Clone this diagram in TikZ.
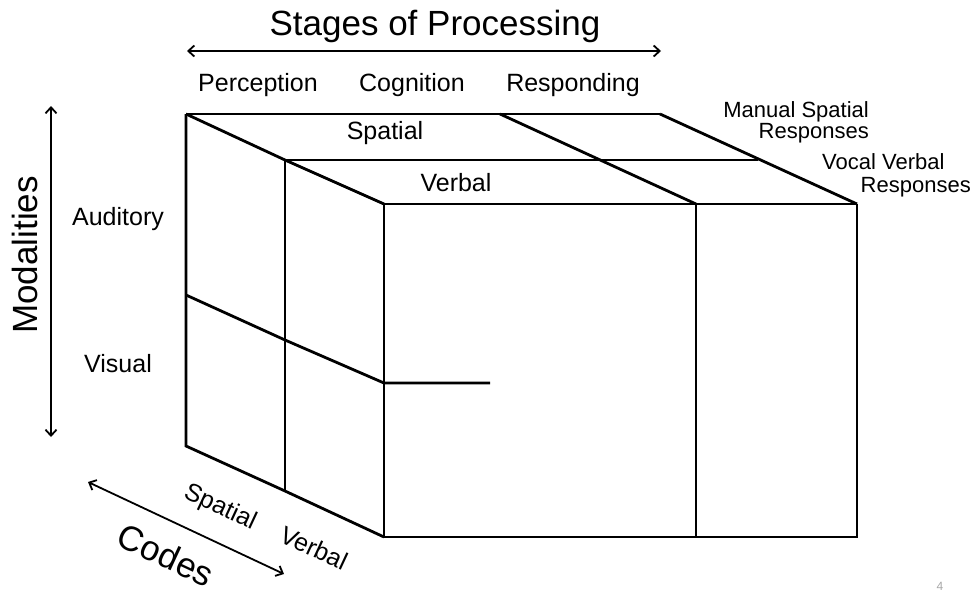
\documentclass[tikz,border=0pt]{standalone}
\usepackage{fontspec}
\setmainfont{Liberation Sans}
\usetikzlibrary{arrows.meta}

\tikzset{
  edge/.style={line width=2.8pt, line join=miter},
  axis/.style={{Straight Barb[length=6pt,width=11pt]}-{Straight Barb[length=6pt,width=11pt]}, line width=1.8pt},
  big/.style={font=\fontsize{35}{40}\selectfont, inner sep=0pt},
  mid/.style={font=\fontsize{25}{28}\selectfont, inner sep=0pt},
  small/.style={font=\fontsize{22}{24}\selectfont, inner sep=0pt, align=right}
}

\begin{document}
\begin{tikzpicture}[x=1pt, y=-1pt]
\useasboundingbox (0,0) rectangle (978,592);
% cube corners
\coordinate (bl) at (186,114);
\coordinate (bm) at (500,114);
\coordinate (br) at (660,114);
\coordinate (ml) at (285,160);
\coordinate (mr) at (758,160);
\coordinate (fl) at (384,204);
\coordinate (fm) at (696,204);
\coordinate (fr) at (857,204);
\coordinate (fbl) at (384,537);
\coordinate (fbm) at (696,537);
\coordinate (fbr) at (857,537);
\coordinate (bbl) at (186,446);
\coordinate (mbl) at (285,491);
\coordinate (dl) at (186,295);
\coordinate (dm) at (285,340);
\coordinate (df) at (384,383);
\coordinate (de) at (490,383);
% top face
\draw [edge] (bl) -- (br);
\draw [edge] (ml) -- (mr);
\draw [edge] (fl) -- (fr);
\draw [edge] (bl) -- (ml) -- (fl);
\draw [edge] (bm) -- (fm);
\draw [edge] (br) -- (fr);
% side face
\draw [edge] (bl) -- (bbl) -- (mbl) -- (fbl);
\draw [edge] (ml) -- (mbl);
\draw [edge] (dl) -- (dm) -- (df) -- (de);
% front face
\draw [edge] (fl) -- (fbl) -- (fbr) -- (fr);
\draw [edge] (fm) -- (fbm);
% axes
\coordinate (sa) at (187,51);
\coordinate (sb) at (661,51);
\draw [axis] (sa) -- (sb);
\coordinate (ma) at (51,106);
\coordinate (mb) at (51,437);
\draw [axis] (ma) -- (mb);
\coordinate (ca) at (88,482);
\coordinate (cb) at (284,574);
\draw [axis] (ca) -- (cb);
% labels
\node [big] (stages) at (435,26) {Stages of Processing};
\node [big, rotate=90] (modal) at (25,255) {Modalities};
\node [big, rotate=-25] (codes) at (166,555) {Codes};
\node [mid] (percep) at (258,85) {Perception};
\node [mid] (cogn) at (412,85) {Cognition};
\node [mid] (resp) at (573,85) {Responding};
\node [mid] (tspat) at (385,133) {Spatial};
\node [mid] (tverb) at (456,183) {Verbal};
\node [mid] (audit) at (118,219) {Auditory};
\node [mid] (visual) at (118,364) {Visual};
\node [mid, rotate=-25] (cspat) at (220,508) {Spatial};
\node [mid, rotate=-25] (cverb) at (314,548) {Verbal};
\node [small, anchor=north east] (manual) at (869,101) {Manual Spatial\\[-3pt]Responses};
\node [small, anchor=north west] (vocal) at (822,153) {Vocal Verbal};
\node [small, anchor=north east] (vresp) at (971,177) {Responses};
\node [font=\fontsize{12}{12}\selectfont, text=black!35, inner sep=0pt, anchor=south] (page) at (940,591) {4};
\end{tikzpicture}
\end{document}
